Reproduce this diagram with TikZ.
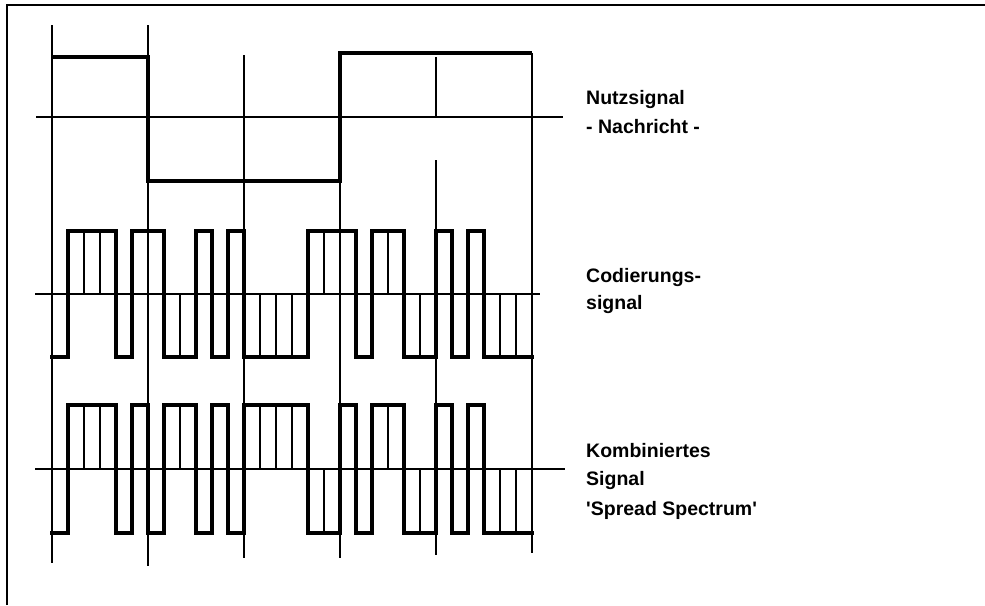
\documentclass[tikz,border=0pt]{standalone}
\usepackage{fontspec}
\setmainfont{Liberation Sans}
\newcommand\drawchips[4]{%
 \foreach \v [count=\i from 0, remember=\v as \lastv (initially 0)] in {#4} {%
   \pgfmathsetmacro\xa{52+16*\i}%
   \pgfmathsetmacro\xb{68+16*\i}%
   \pgfmathsetmacro\lev{ifthenelse(\v==1,#2,#3)}%
   \pgfmathsetmacro\plev{ifthenelse(\lastv==1,#2,#3)}%
   \draw[chip] (\xa,#1) rectangle (\xb,\lev);
   \draw[wave] (\xa,\lev) -- (\xb,\lev);
   \ifnum\v=\lastv\else \draw[wave] (\xa,\plev) -- (\xa,\lev);\fi
 }}
\begin{document}
\begin{tikzpicture}[x=1pt,y=-1pt,
  grid/.style={line width=1.4pt},
  wave/.style={line width=4.2pt,line cap=rect},
  chip/.style={line width=1.2pt},
  lbl/.style={anchor=base west,inner sep=0pt,font=\fontsize{19.5}{23}\selectfont\bfseries}]
\useasboundingbox (0,0) rectangle (985,605);
\draw[line width=2.4pt] (7,605) -- (7,5) -- (985,5);
% axes
\draw[grid] (36,117) -- (563,117);
\draw[grid] (35,294) -- (540,294);
\draw[grid] (35,469) -- (565,469);
% bit boundary lines
\draw[grid] (52,25) -- (52,563);
\draw[grid] (148,25) -- (148,566);
\draw[grid] (244,55) -- (244,558);
\draw[grid] (340,55) -- (340,558);
\draw[grid] (436,57) -- (436,117);
\draw[grid] (436,160) -- (436,555);
\draw[grid] (532,53) -- (532,553);
% data signal
\draw[wave,line cap=butt,line join=miter] (52,57) -- (148,57) -- (148,181) -- (340,181) -- (340,53) -- (532,53);
% code signal
\drawchips{294}{231}{357}{0,1,1,1,0,1, 1,0,0,1,0,1, 0,0,0,0,1,1, 1,0,1,1,0,0, 1,0,1,0,0,0}
% combined signal
\drawchips{469}{405}{533}{0,1,1,1,0,1, 0,1,1,0,1,0, 1,1,1,1,0,0, 1,0,1,1,0,0, 1,0,1,0,0,0}
% labels
\node[lbl] (n1) at (586,104) {Nutzsignal};
\node[lbl] (n2) at (586,133) {- Nachricht -};
\node[lbl] (c1) at (586,282) {Codierungs-};
\node[lbl] (c2) at (586,309) {signal};
\node[lbl] (k1) at (586,457) {Kombiniertes};
\node[lbl] (k2) at (586,485) {Signal};
\node[lbl] (k3) at (586,515) {\textquotesingle Spread Spectrum\textquotesingle};
\end{tikzpicture}
\end{document}
